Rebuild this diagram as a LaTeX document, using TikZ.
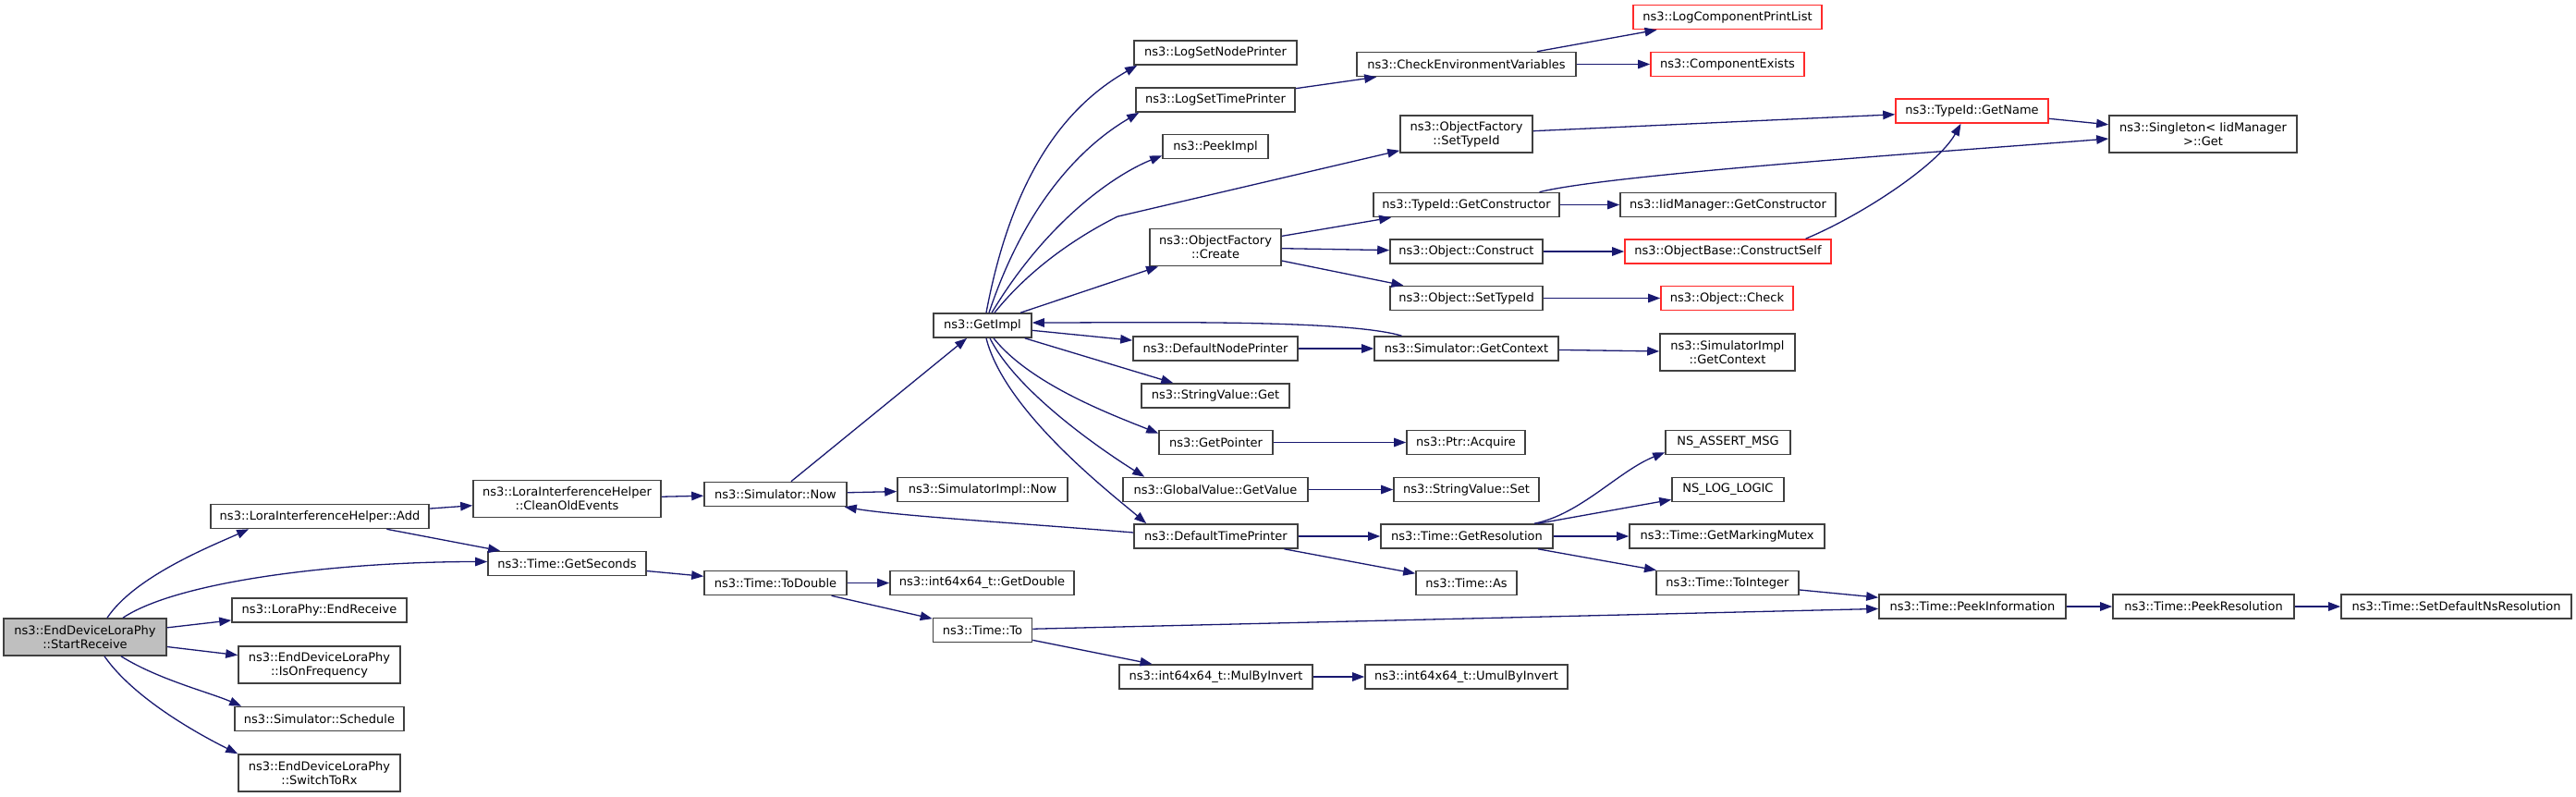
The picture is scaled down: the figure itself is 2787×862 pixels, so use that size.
\documentclass[tikz,border=0pt]{standalone}
\usepackage{fontspec}
\setmainfont{DejaVu Sans}
\usetikzlibrary{arrows.meta}
\definecolor{edgeblue}{HTML}{191970}
\definecolor{boxred}{HTML}{FF2A2A}
\definecolor{boxgray}{HTML}{404040}
\definecolor{startgray}{HTML}{BFBFBF}

\begin{document}
\begin{tikzpicture}[x=1pt,y=-1pt,>={Triangle[length=13pt,width=9.5pt]}]
  \tikzstyle{box}=[draw=boxgray,line width=1.6pt,fill=white,minimum height=26pt,inner sep=0pt,align=center,font=\fontsize{13}{15}\selectfont]
  \tikzstyle{tall}=[minimum height=40pt]
  \tikzstyle{redbox}=[box,draw=boxred]
  \tikzstyle{call}=[->,edgeblue,line width=1.3pt]
  \useasboundingbox (0,0) rectangle (2787,862);
  % caller and first level
  \node[box,tall,fill=startgray,minimum width=176pt] (sr) at (92,689) {ns3::EndDeviceLoraPhy\\::StartReceive};
  \node[box,minimum width=236pt] (add) at (346,558.5) {ns3::LoraInterferenceHelper::Add};
  \node[box,minimum width=189pt] (endr) at (345.5,660) {ns3::LoraPhy::EndReceive};
  \node[box,tall,minimum width=175pt] (isfreq) at (345.5,719) {ns3::EndDeviceLoraPhy\\::IsOnFrequency};
  \node[box,minimum width=183pt] (sched) at (345.5,777.5) {ns3::Simulator::Schedule};
  \node[box,tall,minimum width=175pt] (torx) at (345.5,836) {ns3::EndDeviceLoraPhy\\::SwitchToRx};
  \node[box,tall,minimum width=203pt] (clean) at (613.5,539.5) {ns3::LoraInterferenceHelper\\::CleanOldEvents};
  \node[box,minimum width=171pt] (gsec) at (613.5,609.5) {ns3::Time::GetSeconds};
  \node[box,minimum width=154pt] (snow) at (839,534.5) {ns3::Simulator::Now};
  \node[box,minimum width=154pt] (tdbl) at (839,630.5) {ns3::Time::ToDouble};
  \node[box,minimum width=106pt] (getimpl) at (1063,352) {ns3::GetImpl};
  \node[box,minimum width=184pt] (inow) at (1063,529.5) {ns3::SimulatorImpl::Now};
  \node[box,minimum width=199pt] (gdbl) at (1062.5,630.5) {ns3::int64x64\_t::GetDouble};
  \node[box,minimum width=107pt] (tto) at (1063,681.5) {ns3::Time::To};
  % column of GetImpl callees
  \node[box,minimum width=176pt] (lsnp) at (1315,57) {ns3::LogSetNodePrinter};
  \node[box,minimum width=172pt] (lstp) at (1315,108) {ns3::LogSetTimePrinter};
  \node[box,minimum width=114pt] (peek) at (1315,158.5) {ns3::PeekImpl};
  \node[box,tall,minimum width=142pt] (ofcreate) at (1315,267.5) {ns3::ObjectFactory\\::Create};
  \node[box,minimum width=178pt] (dnp) at (1315,377) {ns3::DefaultNodePrinter};
  \node[box,minimum width=160pt] (svget) at (1315,428) {ns3::StringValue::Get};
  \node[box,minimum width=123pt] (gptr) at (1315.5,478.5) {ns3::GetPointer};
  \node[box,minimum width=200pt] (gvget) at (1315,529.5) {ns3::GlobalValue::GetValue};
  \node[box,minimum width=177pt] (dtp) at (1315.5,580) {ns3::DefaultTimePrinter};
  \node[box,minimum width=209pt] (mulinv) at (1315.5,732) {ns3::int64x64\_t::MulByInvert};
  % next column
  \node[box,minimum width=237pt] (cenv) at (1586.5,69.5) {ns3::CheckEnvironmentVariables};
  \node[box,tall,minimum width=143pt] (ofset) at (1586.5,145) {ns3::ObjectFactory\\::SetTypeId};
  \node[box,minimum width=201pt] (tgc) at (1586.5,221.5) {ns3::TypeId::GetConstructor};
  \node[box,minimum width=165pt] (oconst) at (1586.5,272) {ns3::Object::Construct};
  \node[box,minimum width=165pt] (osettid) at (1586.5,322.5) {ns3::Object::SetTypeId};
  \node[box,minimum width=199pt] (sgctx) at (1586.5,377) {ns3::Simulator::GetContext};
  \node[box,minimum width=128pt] (pacq) at (1586,478.5) {ns3::Ptr::Acquire};
  \node[box,minimum width=157pt] (svset) at (1586.5,529.5) {ns3::StringValue::Set};
  \node[box,minimum width=186pt] (gres) at (1587,580) {ns3::Time::GetResolution};
  \node[box,minimum width=109pt] (tas) at (1586.5,630.5) {ns3::Time::As};
  \node[box,minimum width=219pt] (umul) at (1586.5,732) {ns3::int64x64\_t::UmulByInvert};
  % next column
  \node[redbox,minimum width=204pt] (lcpl) at (1869,18.5) {ns3::LogComponentPrintList};
  \node[redbox,minimum width=166pt] (cexist) at (1869,69.5) {ns3::ComponentExists};
  \node[box,minimum width=233pt] (iidgc) at (1869.5,221.5) {ns3::IidManager::GetConstructor};
  \node[redbox,minimum width=223pt] (cself) at (1869.5,272) {ns3::ObjectBase::ConstructSelf};
  \node[redbox,minimum width=143pt] (ocheck) at (1868.5,322.5) {ns3::Object::Check};
  \node[box,tall,minimum width=146pt] (ictx) at (1869,381) {ns3::SimulatorImpl\\::GetContext};
  \node[box,minimum width=135pt] (nsassert) at (1869.5,478.5) {NS\_ASSERT\_MSG};
  \node[box,minimum width=121pt] (nslog) at (1869.5,529.5) {NS\_LOG\_LOGIC};
  \node[box,minimum width=211pt] (gmm) at (1868.5,580) {ns3::Time::GetMarkingMutex};
  \node[box,minimum width=154pt] (toint) at (1869,630.5) {ns3::Time::ToInteger};
  % right end
  \node[redbox,minimum width=165pt] (gname) at (2133.5,120) {ns3::TypeId::GetName};
  \node[box,minimum width=202pt] (pinfo) at (2134,656) {ns3::Time::PeekInformation};
  \node[box,tall,minimum width=203pt] (singl) at (2383.5,145) {ns3::Singleton< IidManager\\ >::Get};
  \node[box,minimum width=196pt] (pres) at (2384,656) {ns3::Time::PeekResolution};
  \node[box,minimum width=249pt] (setdef) at (2657.5,656) {ns3::Time::SetDefaultNsResolution};

  % calls of StartReceive
  \draw[call] ([xshift=24pt]sr.north) .. controls +(30,-45) and +(-40,18) .. ([xshift=42pt]add.south west);
  \draw[call] ([xshift=41pt]sr.north) .. controls +(60,-40) and +(-160,0) .. ([yshift=2pt]gsec.west);
  \draw[call] (sr) -- (endr);
  \draw[call] (sr) -- (isfreq);
  \draw[call] ([xshift=39pt]sr.south) .. controls +(40,25) and +(-35,-15) .. ([xshift=8pt]sched.north west);
  \draw[call] ([xshift=21pt]sr.south) .. controls +(35,50) and +(-30,-15) .. (torx.north west);
  \draw[call] (add) -- (clean);
  \draw[call] (add) -- (gsec);
  \draw[call] (clean) -- (snow);
  \draw[call] (snow) -- (inow);
  \draw[call] (snow) -- (getimpl);
  \draw[call] (gsec) -- (tdbl);
  \draw[call] (tdbl) -- (gdbl);
  \draw[call] (tdbl) -- (tto);
  \draw[call] (tto) -- (mulinv);
  \draw[call] (mulinv) -- (umul);
  \draw[call] (tto) -- (pinfo);
  % calls of GetImpl
  \draw[call] ([xshift=4pt]getimpl.north) .. controls +(30,-160) and +(-70,40) .. ([xshift=4pt]lsnp.south west);
  \draw[call] ([xshift=7pt]getimpl.north) .. controls +(40,-120) and +(-60,35) .. ([xshift=4pt]lstp.south west);
  \draw[call] ([xshift=10pt]getimpl.north) .. controls +(60,-100) and +(-50,20) .. ([yshift=4pt]peek.south west);
  \draw[call] ([xshift=13pt]getimpl.north) .. controls +(40,-50) and +(-40,20) .. ++(133,-104) -- ([yshift=3pt]ofset.south west);
  \draw[call] (getimpl) -- (ofcreate);
  \draw[call] (getimpl) -- (dnp);
  \draw[call] (getimpl) -- (svget);
  \draw[call] ([xshift=12pt]getimpl.south) .. controls +(40,50) and +(-50,-20) .. ([yshift=-4pt]gptr.north west);
  \draw[call] ([xshift=8pt]getimpl.south) .. controls +(30,60) and +(-40,-25) .. ([xshift=24pt]gvget.north west);
  \draw[call] ([xshift=4pt]getimpl.south) .. controls +(20,80) and +(-35,-30) .. ([xshift=14pt]dtp.north west);
  \draw[call] ([xshift=-70pt]sgctx.north) .. controls +(-60,-18) and +(120,0) .. ([yshift=3pt]getimpl.east);
  \draw[call] ([yshift=4pt]dtp.west) .. controls +(-120,-10) and +(60,10) .. ([xshift=-3pt]snow.south east);
  % deeper calls
  \draw[call] (lstp) -- (cenv);
  \draw[call] (cenv) -- (lcpl);
  \draw[call] (cenv) -- (cexist);
  \draw[call] (ofset) -- (gname);
  \draw[call] (gname) -- (singl);
  \draw[call] ([xshift=79pt]tgc.north) .. controls +(80,-20) and +(-150,12) .. ([yshift=-5pt]singl.west);
  \draw[call] (tgc) -- (iidgc);
  \draw[call] (ofcreate) -- (tgc);
  \draw[call] (ofcreate) -- (oconst);
  \draw[call] (ofcreate) -- (osettid);
  \draw[call] (oconst) -- (cself);
  \draw[call] ([xshift=84pt]cself.north) .. controls +(60,-25) and +(-25,45) .. ([xshift=-12pt]gname.south);
  \draw[call] (osettid) -- (ocheck);
  \draw[call] (dnp) -- (sgctx);
  \draw[call] (sgctx) -- (ictx);
  \draw[call] (gptr) -- (pacq);
  \draw[call] (gvget) -- (svset);
  \draw[call] (dtp) -- (gres);
  \draw[call] (dtp) -- (tas);
  \draw[call] ([xshift=73pt]gres.north) .. controls +(50,-10) and +(-50,20) .. ([yshift=3pt]nsassert.south west);
  \draw[call] (gres) -- (nslog);
  \draw[call] (gres) -- (gmm);
  \draw[call] (gres) -- (toint);
  \draw[call] (toint) -- (pinfo);
  \draw[call] (pinfo) -- (pres);
  \draw[call] (pres) -- (setdef);
\end{tikzpicture}
\end{document}
